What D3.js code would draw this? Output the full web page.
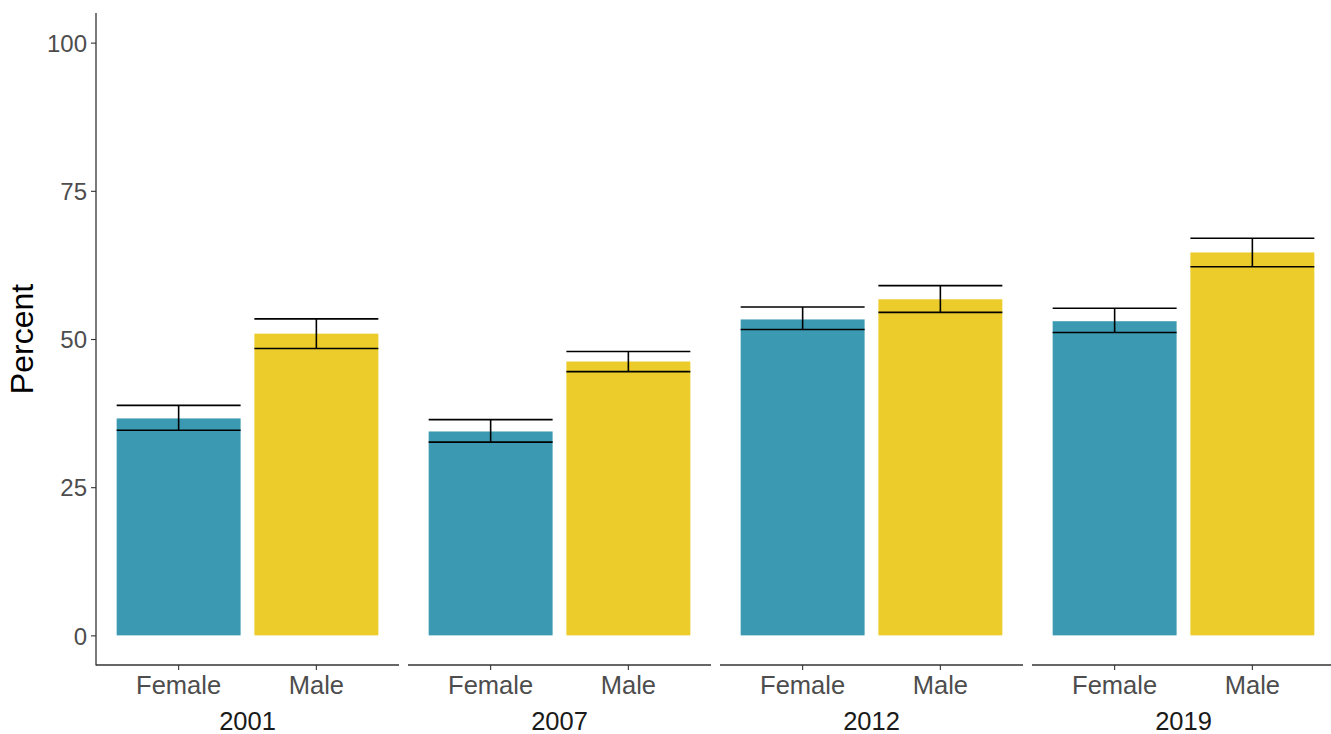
<!DOCTYPE html>
<html>
<head>
<meta charset="utf-8">
<script src="https://cdn.jsdelivr.net/npm/d3@7"></script>
<style>
  html, body { margin: 0; padding: 0; background: #ffffff; }
  svg { display: block; font-family: "Liberation Sans", Arial, sans-serif; }
</style>
</head>
<body>
<svg id="chart" width="1331" height="734"></svg>
<script>
// Survey years (one facet each) and sex groups within each facet
const years = ["2001", "2007", "2012", "2019"];
const groups = ["Female", "Male"];

// Estimated percentage with confidence interval, ordered by year
const femalePct   = [36.6, 34.4, 53.3, 53.0];
const femaleLower = [34.6, 32.6, 51.6, 51.1];
const femaleUpper = [38.8, 36.4, 55.4, 55.2];

const malePct   = [50.9, 46.2, 56.7, 64.6];
const maleLower = [48.4, 44.5, 54.5, 62.2];
const maleUpper = [53.4, 47.9, 59.0, 67.0];

const yTicks = [0, 25, 50, 75, 100];
const groupColors = ["#3B9AB2", "#EBCC2A"];

const rows = years.flatMap((yr, i) => [
  { year: yr, group: groups[0], pct: femalePct[i], lo: femaleLower[i], hi: femaleUpper[i] },
  { year: yr, group: groups[1], pct: malePct[i],   lo: maleLower[i],   hi: maleUpper[i] }
]);

const svg = d3.select("#chart");

const plotLeft = 96, plotTop = 13, plotBottom = 665;
const panelW = 303, panelGap = 9;

// shared y scale across facets
const y = d3.scaleLinear().domain([-5, 105]).range([plotBottom, plotTop]);

// facet positions
const facet = d3.scaleBand()
  .domain(years)
  .range([plotLeft, plotLeft + years.length * panelW + (years.length - 1) * panelGap])
  .paddingInner(panelGap / (panelW + panelGap))
  .paddingOuter(0);

// within-panel discrete positions: category k at (k + 0.6) units, bar width 0.9 units
const x = d3.scalePoint()
  .domain(groups)
  .range([0.6 * facet.bandwidth() / 2.2, 1.6 * facet.bandwidth() / 2.2]);
const unit = facet.bandwidth() / 2.2;
const barW = 0.9 * unit;
const color = d3.scaleOrdinal().domain(groups).range(groupColors);

// y axis
const yAxis = d3.axisLeft(y).tickValues(yTicks).tickSize(5).tickPadding(4);
const yg = svg.append("g").attr("transform", `translate(${plotLeft},0)`).call(yAxis);
yg.select(".domain").remove();
yg.selectAll(".tick line").attr("stroke", "#333333").attr("stroke-width", 1.1);
yg.selectAll(".tick text").attr("fill", "#4D4D4D").style("font-size", "24px")
  .attr("dy", "0.36em");
svg.append("line")
  .attr("x1", plotLeft).attr("x2", plotLeft)
  .attr("y1", plotTop).attr("y2", plotBottom + 0.5)
  .attr("stroke", "#333333").attr("stroke-width", 1.3);

// y axis title
svg.append("text")
  .attr("transform", `translate(33,${(y(-5) + y(105)) / 2}) rotate(-90)`)
  .attr("text-anchor", "middle")
  .attr("fill", "#000000")
  .style("font-size", "32px")
  .text("Percent");

// facets
years.forEach(yr => {
  const px = facet(yr);
  const g = svg.append("g").attr("transform", `translate(${px},0)`);
  const data = rows.filter(r => r.year === yr);

  g.selectAll("rect.bar").data(data).join("rect")
    .attr("class", "bar")
    .attr("x", d => x(d.group) - barW / 2)
    .attr("width", barW)
    .attr("y", d => y(d.pct))
    .attr("height", d => y(0) - y(d.pct))
    .attr("fill", d => color(d.group));

  const eb = g.selectAll("g.err").data(data).join("g").attr("class", "err")
    .attr("stroke", "#000000").attr("stroke-width", 1.6);
  eb.append("line")
    .attr("x1", d => x(d.group) - barW / 2).attr("x2", d => x(d.group) + barW / 2)
    .attr("y1", d => y(d.hi)).attr("y2", d => y(d.hi));
  eb.append("line")
    .attr("x1", d => x(d.group) - barW / 2).attr("x2", d => x(d.group) + barW / 2)
    .attr("y1", d => y(d.lo)).attr("y2", d => y(d.lo));
  eb.append("line")
    .attr("x1", d => x(d.group)).attr("x2", d => x(d.group))
    .attr("y1", d => y(d.hi)).attr("y2", d => y(d.lo));

  // x axis per panel
  g.append("line")
    .attr("x1", 0).attr("x2", facet.bandwidth())
    .attr("y1", plotBottom).attr("y2", plotBottom)
    .attr("stroke", "#333333").attr("stroke-width", 1.3);
  g.selectAll("line.tick").data(groups).join("line")
    .attr("class", "tick")
    .attr("x1", d => x(d)).attr("x2", d => x(d))
    .attr("y1", plotBottom).attr("y2", plotBottom + 5)
    .attr("stroke", "#333333").attr("stroke-width", 1.1);
  g.selectAll("text.tlab").data(groups).join("text")
    .attr("class", "tlab")
    .attr("x", d => x(d)).attr("y", 694)
    .attr("text-anchor", "middle")
    .attr("fill", "#4D4D4D")
    .style("font-size", "25.5px")
    .text(d => d);

  g.append("text")
    .attr("x", facet.bandwidth() / 2).attr("y", 730)
    .attr("text-anchor", "middle")
    .attr("fill", "#1A1A1A")
    .style("font-size", "25.5px")
    .text(yr);
});
</script>
</body>
</html>
